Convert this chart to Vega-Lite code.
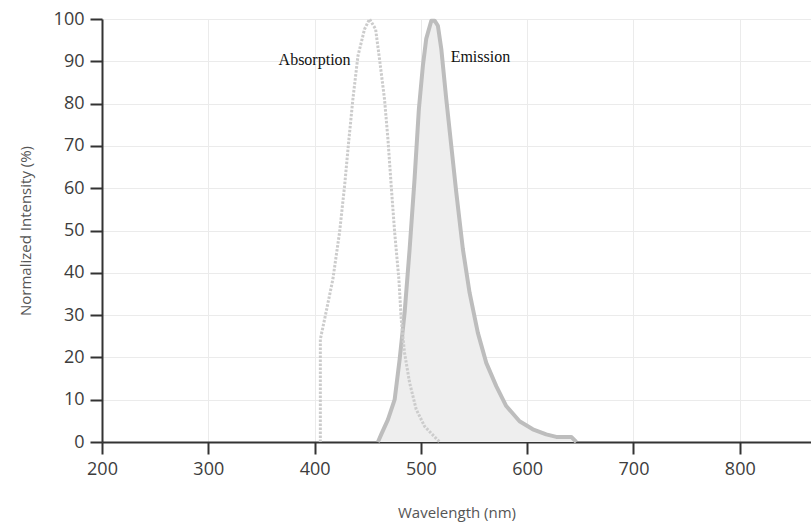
{
  "$schema": "https://vega.github.io/schema/vega-lite/v6.json",
  "autosize": {"type": "none"},
  "padding": {"left": 102, "top": 19, "right": 0, "bottom": 83},
  "width": 709,
  "height": 423,
  "background": "white",
  "config": {
    "view": {"stroke": null},
    "axis": {
      "domainColor": "#333",
      "domainWidth": 2,
      "tickColor": "#333",
      "tickWidth": 2,
      "tickSize": 12,
      "labelColor": "#3d3d3d",
      "labelFont": "Open Sans",
      "labelFontSize": 18,
      "labelFlush": false,
      "labelOverlap": false,
      "titleFont": "Open Sans",
      "titleFontSize": 15,
      "titleFontWeight": "normal",
      "titleColor": "#555",
      "gridColor": "#ebebeb",
      "gridWidth": 1
    }
  },
  "datasets": {
    "absorption": [
      {"wl": 405.4, "val": 0},
      {"wl": 405.4, "val": 24.3},
      {"wl": 409.4, "val": 29},
      {"wl": 417.2, "val": 38.5},
      {"wl": 423.5, "val": 49.6},
      {"wl": 428.2, "val": 60.5},
      {"wl": 432.3, "val": 71.6},
      {"wl": 436, "val": 81},
      {"wl": 440.8, "val": 91.3},
      {"wl": 447, "val": 97.6},
      {"wl": 451.7, "val": 100},
      {"wl": 457.4, "val": 97.6},
      {"wl": 461.1, "val": 90.5},
      {"wl": 465.8, "val": 81},
      {"wl": 469, "val": 71.6},
      {"wl": 472.1, "val": 60.5},
      {"wl": 475.3, "val": 49.6},
      {"wl": 479.3, "val": 38.5},
      {"wl": 481.5, "val": 29},
      {"wl": 484.6, "val": 21.1},
      {"wl": 489.4, "val": 14},
      {"wl": 495.6, "val": 7.7},
      {"wl": 503.5, "val": 3.7},
      {"wl": 514.5, "val": 0.8},
      {"wl": 517.6, "val": 0}
    ],
    "emission": [
      {"wl": 459.6, "val": 0},
      {"wl": 462.7, "val": 1.8},
      {"wl": 469, "val": 5.3},
      {"wl": 475.3, "val": 10},
      {"wl": 480, "val": 19.5},
      {"wl": 484.7, "val": 30.6},
      {"wl": 489.4, "val": 45.6},
      {"wl": 494, "val": 62},
      {"wl": 498.1, "val": 78.7},
      {"wl": 501.9, "val": 89},
      {"wl": 505, "val": 95.3},
      {"wl": 509.8, "val": 99.6},
      {"wl": 512.9, "val": 99.6},
      {"wl": 516, "val": 98.4},
      {"wl": 519.2, "val": 92.9},
      {"wl": 523.9, "val": 81},
      {"wl": 528.6, "val": 70},
      {"wl": 533.3, "val": 59},
      {"wl": 539.5, "val": 45.6},
      {"wl": 545.8, "val": 35.3},
      {"wl": 553.6, "val": 25.8},
      {"wl": 561.5, "val": 18.7},
      {"wl": 570.9, "val": 13.2},
      {"wl": 580.3, "val": 8.5},
      {"wl": 592.8, "val": 4.9},
      {"wl": 605.3, "val": 3},
      {"wl": 617.9, "val": 1.8},
      {"wl": 627.4, "val": 1.2},
      {"wl": 641.5, "val": 1.2},
      {"wl": 646.2, "val": 0}
    ],
    "labels": [
      {"wl": 400, "val": 90.3, "label": "Absorption"},
      {"wl": 556, "val": 91.0, "label": "Emission"}
    ]
  },
  "encoding": {
    "x": {
      "field": "wl",
      "type": "quantitative",
      "scale": {"domain": [200, 867], "nice": false, "zero": false},
      "axis": {
        "title": "Wavelength (nm)",
        "values": [200, 300, 400, 500, 600, 700, 800],
        "labelPadding": 6,
        "titlePadding": 27
      }
    },
    "y": {
      "field": "val",
      "type": "quantitative",
      "scale": {"domain": [0, 100], "nice": false},
      "axis": {
        "title": "Normalized Intensity (%)",
        "values": [0, 10, 20, 30, 40, 50, 60, 70, 80, 90, 100],
        "labelPadding": 6,
        "titlePadding": 20
      }
    }
  },
  "layer": [
    {
      "data": {"name": "emission"},
      "mark": {"type": "area", "color": "#eeeeee", "opacity": 1}
    },
    {
      "data": {"name": "emission"},
      "mark": {"type": "line", "color": "#bdbdbd", "strokeWidth": 4, "strokeJoin": "round"}
    },
    {
      "data": {"name": "absorption"},
      "mark": {"type": "line", "color": "#cccccc", "strokeWidth": 3, "strokeDash": [2.5, 1.5]}
    },
    {
      "data": {"name": "labels"},
      "mark": {"type": "text", "font": "Liberation Serif", "fontSize": 16, "color": "#111"},
      "encoding": {"text": {"field": "label"}}
    }
  ]
}
